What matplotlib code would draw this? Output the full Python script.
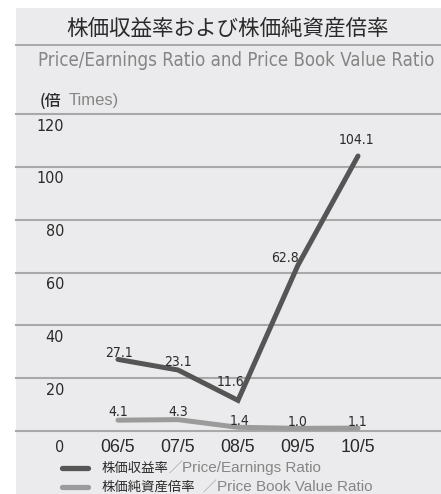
import matplotlib
matplotlib.use("Agg")
import matplotlib.pyplot as plt
from matplotlib.patches import Rectangle

# data
periods = ["06/5", "07/5", "08/5", "09/5", "10/5"]
pe_ratio = [27.1, 23.1, 11.6, 62.8, 104.1]
pbr_ratio = [4.1, 4.3, 1.4, 1.0, 1.1]
y_ticks = [0, 20, 40, 60, 80, 100, 120]

title_jp = "株価収益率および株価純資産倍率"
title_en = "Price/Earnings Ratio and Price Book Value Ratio"
legend_jp = ["株価収益率", "株価純資産倍率"]
legend_en = ["Price/Earnings Ratio", "Price Book Value Ratio"]

W, H = 441, 494
BG = "#ebebed"
DARK = "#2a2a2a"
GREY_TXT = "#858585"
PE_COLOR = "#555555"
PBR_COLOR = "#9b9b9b"
GRID = "#a8a8a8"

NARROW = dict(family="DejaVu Sans", stretch="condensed")
REG = "Liberation Sans"
CJK = ["Noto Sans CJK JP", "DejaVu Sans"]


def fx(x):
    return x / W


def fy(y):
    return 1 - y / H


fig = plt.figure(figsize=(W / 100, H / 100), dpi=100)
fig.patch.set_facecolor("white")
fig.patches.append(Rectangle((fx(16), 0), 1 - fx(16), fy(8), transform=fig.transFigure,
                             facecolor=BG, edgecolor="none", zorder=-10))
renderer = fig.canvas.get_renderer()


def fit_width(t, width):
    # shrink/grow the font so the text spans the given pixel width
    w = t.get_window_extent(renderer).width
    t.set_fontsize(t.get_fontsize() * width / w)


# header
fig.text(fx(228), fy(29), title_jp, family=CJK, fontsize=15.5,
         color=DARK, ha="center", va="center")
fig.add_artist(plt.Line2D([fx(16), 1], [fy(45), fy(45)], transform=fig.transFigure,
                          color=GRID, lw=1.4))
sub = fig.text(fx(236), fy(61), title_en, fontsize=14, color=GREY_TXT,
               ha="center", va="center", **NARROW)
fit_width(sub, 400)
fig.text(fx(40), fy(101), "(倍", family=CJK, fontsize=11.5,
         color=DARK, ha="left", va="center", weight="medium")
fig.text(fx(69), fy(101), "Times)", family=REG, fontsize=12,
         color=GREY_TXT, ha="left", va="center")

# plot area: x index -> pixel 118 + 60*i, y 0 -> 431, 120 -> 114
ax = fig.add_axes([fx(16), fy(431), 1 - fx(16), (431 - 114) / H])
ax.set_xlim((16 - 118) / 60, (441 - 118) / 60)
ax.set_ylim(0, 120)
ax.axis("off")

for v in y_ticks:
    ax.axhline(v, color=GRID, lw=1.5, zorder=1, clip_on=False)
    ax.annotate(str(v), xy=((64 - 118) / 60, v), xytext=(0, -12 if v else -16),
                textcoords="offset pixels", ha="right", va="center",
                fontsize=11.5, color=DARK, annotation_clip=False, **NARROW)

x = list(range(len(periods)))
ax.plot(x, pe_ratio, color=PE_COLOR, lw=3.6, solid_capstyle="round",
        solid_joinstyle="miter", zorder=3, clip_on=False)
ax.plot(x, pbr_ratio, color=PBR_COLOR, lw=3.6, solid_capstyle="round",
        solid_joinstyle="miter", zorder=3, clip_on=False)

for i, lab in enumerate(periods):
    ax.annotate(lab, xy=(i, 0), xytext=(0, -16), textcoords="offset pixels",
                ha="center", va="center", family=REG, fontsize=12.8, color=DARK,
                annotation_clip=False)

# value labels (pixel nudges)
pe_nudge = [(1, 2), (0, 4), (-8, 14), (-13, 3), (-2, 12)]
pbr_nudge = [(0, 4), (0, 4), (2, 2), (0, 2), (0, 2)]
for i, v in enumerate(pe_ratio):
    dx, dy = pe_nudge[i]
    ax.annotate(f"{v:.1f}", xy=(i, v), xytext=(dx, dy), textcoords="offset pixels",
                ha="center", va="baseline", fontsize=10,
                color=DARK, zorder=5, **NARROW)
for i, v in enumerate(pbr_ratio):
    dx, dy = pbr_nudge[i]
    ax.annotate(f"{v:.1f}", xy=(i, v), xytext=(dx, dy), textcoords="offset pixels",
                ha="center", va="baseline", fontsize=10,
                color=DARK, zorder=5, **NARROW)

# legend
rows = [(468, PE_COLOR, 175, 182), (487, PBR_COLOR, 209, 217)]
for k, (yy, col, xs, xe) in enumerate(rows):
    fig.add_artist(plt.Line2D([fx(62), fx(88)], [fy(yy), fy(yy)], transform=fig.transFigure,
                              color=col, lw=3.8, solid_capstyle="round"))
    fig.text(fx(102), fy(yy), legend_jp[k], family=CJK, fontsize=9.6,
             color=DARK, ha="left", va="center")
    fig.text(fx(xs), fy(yy), "／", family=CJK, fontsize=10,
             color="#a0a0a0", ha="center", va="center")
    fig.text(fx(xe), fy(yy), legend_en[k], family=REG, fontsize=11,
             color=GREY_TXT, ha="left", va="center")

fig.savefig("out.png", dpi=100)
